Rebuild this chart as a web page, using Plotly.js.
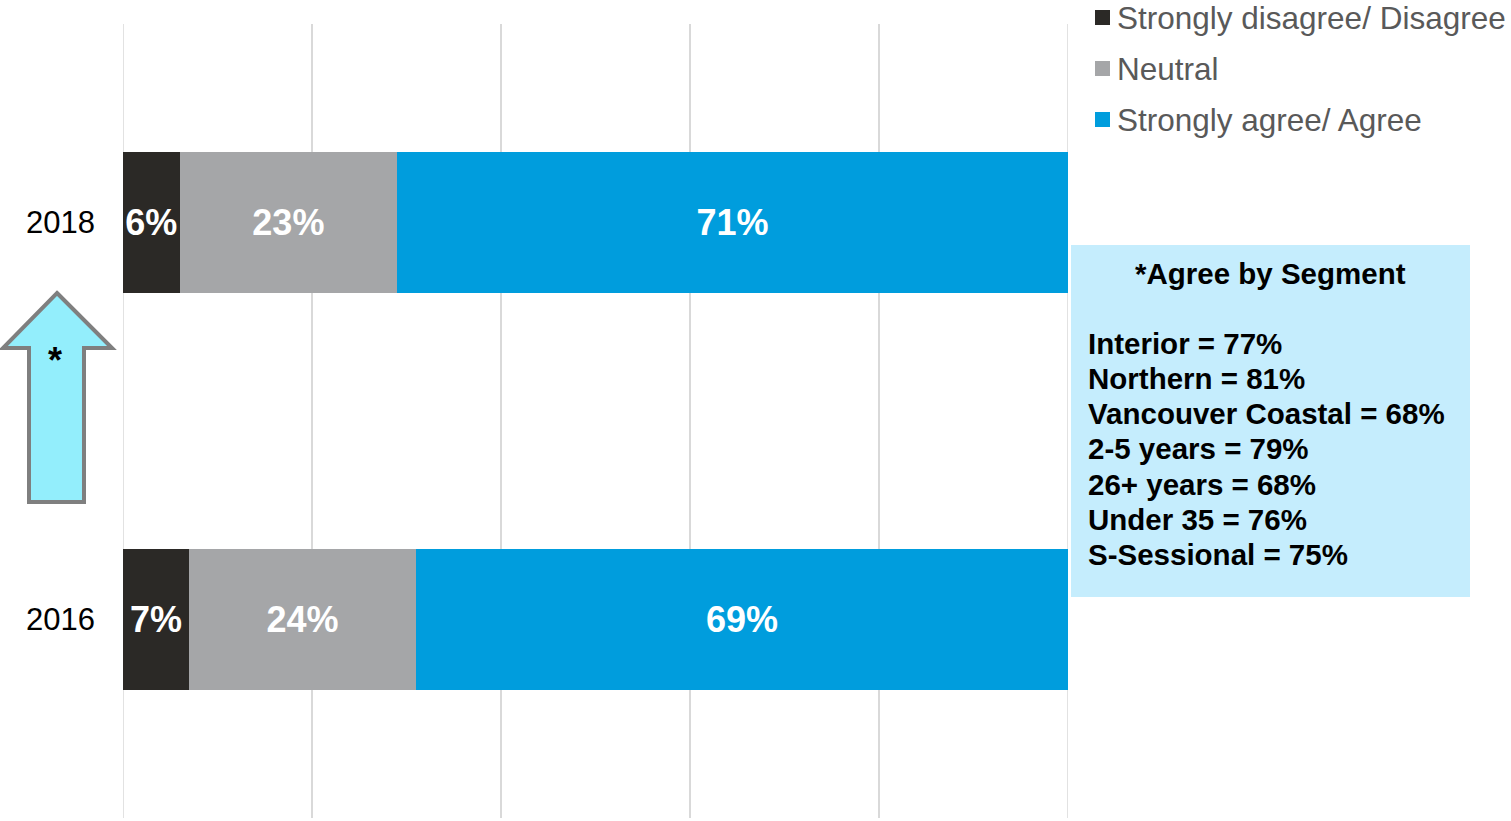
<!DOCTYPE html>
<html>
<head>
<meta charset="utf-8">
<script src="https://cdn.plot.ly/plotly-3.0.1.min.js"></script>
<style>html,body{margin:0;padding:0;background:#fff;}#chart{width:1511px;height:821px;}</style>
</head>
<body>
<div id="chart"></div>
<script>
// ---- data ----
const years = ['2016', '2018'];
const seriesNames = ['Strongly disagree/ Disagree', 'Neutral', 'Strongly agree/ Agree'];
const disagree = [7, 6];
const neutral = [24, 23];
const agree = [69, 71];
const seriesColors = ['#2b2926', '#a5a6a8', '#009ddd'];
const gridTicks = [0, 20, 40, 60, 80, 100];
const boxTitle = '*Agree by Segment';
const segments = ['Interior', 'Northern', 'Vancouver Coastal', '2-5 years', '26+ years', 'Under 35', 'S-Sessional'];
const segmentAgree = [77, 81, 68, 79, 68, 76, 75];

// ---- geometry helpers (pixel -> paper) ----
const W = 1511, H = 821;
const M = {l: 123, r: 443, t: 24, b: 3};
const PW = W - M.l - M.r, PH = H - M.t - M.b;
const px = x => (x - M.l) / PW;
const py = y => (H - M.b - y) / PH;

const FONT = 'Liberation Sans, Arial, sans-serif';
const values = [disagree, neutral, agree];

const traces = values.map((v, i) => ({
  type: 'bar',
  orientation: 'h',
  y: years,
  x: v,
  name: seriesNames[i],
  marker: {color: seriesColors[i], line: {width: 0}},
  width: 0.353,
  text: v.map(d => d + '%'),
  texttemplate: '%{text}',
  textposition: 'inside',
  insidetextanchor: 'middle',
  constraintext: 'none',
  textangle: 0,
  textfont: {family: FONT, size: 36, color: '#ffffff', weight: 'bold'},
  hoverinfo: 'skip',
  showlegend: false
}));

const shapes = [];
const annotations = [];

// edge gridlines (0 and 100)
[gridTicks[0], gridTicks[gridTicks.length - 1]].forEach(v => {
  shapes.push({type: 'line', xref: 'x', yref: 'paper', x0: v, x1: v, y0: 0, y1: 1,
    line: {color: '#d9d9d9', width: 1.5}, layer: 'below'});
});

// custom legend
const legendY = [17.5, 68.5, 119.5];
seriesNames.forEach((n, i) => {
  shapes.push({type: 'rect', xref: 'paper', yref: 'paper',
    x0: px(1095), x1: px(1110), y0: py(legendY[i] + 7.5), y1: py(legendY[i] - 7.5),
    fillcolor: seriesColors[i], line: {width: 0}});
  annotations.push({xref: 'paper', yref: 'paper', x: px(1115), y: py(legendY[i]),
    xanchor: 'left', yanchor: 'middle', showarrow: false, text: n,
    font: {family: FONT, size: 31.5, color: '#595959'}});
});

// segment box
shapes.push({type: 'rect', xref: 'paper', yref: 'paper',
  x0: px(1071), x1: px(1470), y0: py(597), y1: py(245),
  fillcolor: '#c5edfd', line: {width: 0}, layer: 'above'});
annotations.push({xref: 'paper', yref: 'paper', x: px(1270), y: py(273),
  xanchor: 'center', yanchor: 'middle', showarrow: false, text: '<b>' + boxTitle + '</b>',
  font: {family: FONT, size: 29.5, color: '#000000'}});
segments.forEach((s, i) => {
  annotations.push({xref: 'paper', yref: 'paper', x: px(1086), y: py(343 + i * 35.3),
    xanchor: 'left', yanchor: 'middle', showarrow: false,
    text: '<b>' + s + ' = ' + segmentAgree[i] + '%</b>',
    font: {family: FONT, size: 29.5, color: '#000000'}});
});

// up arrow
const arrowPts = [[57, 293], [112, 348], [84, 348], [84, 502], [29, 502], [29, 348], [3, 348]];
const path = arrowPts.map((p, i) => (i ? 'L' : 'M') + px(p[0]).toFixed(5) + ',' + py(p[1]).toFixed(5)).join(' ') + ' Z';
shapes.push({type: 'path', xref: 'paper', yref: 'paper', path: path,
  fillcolor: '#93eefc', line: {color: '#7f7f7f', width: 4}});
annotations.push({xref: 'paper', yref: 'paper', x: px(55), y: py(360),
  xanchor: 'center', yanchor: 'middle', showarrow: false, text: '<b>*</b>',
  font: {family: FONT, size: 36, color: '#000000'}});

const layout = {
  width: W, height: H,
  margin: M,
  paper_bgcolor: '#ffffff', plot_bgcolor: '#ffffff',
  barmode: 'stack',
  showlegend: false,
  xaxis: {range: [0, 100], tickvals: gridTicks, showticklabels: false,
    showgrid: true, gridcolor: '#d9d9d9', gridwidth: 1.5, zeroline: false, showline: false,
    fixedrange: true},
  yaxis: {type: 'category', categoryorder: 'array', categoryarray: years, range: [-0.5, 1.5],
    showgrid: false, zeroline: false, showline: false, ticks: '',
    ticklabelstandoff: 27,
    tickfont: {family: FONT, size: 31, color: '#000000'}, fixedrange: true},
  shapes: shapes,
  annotations: annotations,
  font: {family: FONT}
};

Plotly.newPlot('chart', traces, layout, {displayModeBar: false, staticPlot: true});
</script>
</body>
</html>
